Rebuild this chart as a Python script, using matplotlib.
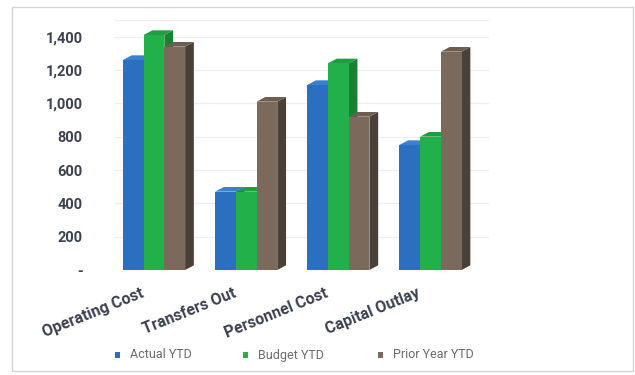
import matplotlib
matplotlib.use("Agg")
import matplotlib.pyplot as plt
from matplotlib.patches import Polygon, Rectangle
import matplotlib.transforms as mtransforms

# Chart data
categories = ["Operating Cost", "Transfers Out", "Personnel Cost", "Capital Outlay"]
series_names = ["Actual YTD", "Budget YTD", "Prior Year YTD"]
actual_ytd = [1260, 470, 1110, 750]
budget_ytd = [1410, 470, 1240, 800]
prior_year_ytd = [1340, 1010, 920, 1310]
y_ticks = [0, 200, 400, 600, 800, 1000, 1200, 1400]
y_tick_labels = ["-", "200", "400", "600", "800", "1,000", "1,200", "1,400"]

series_values = [actual_ytd, budget_ytd, prior_year_ytd]
front_colors = ["#2b6fc0", "#22b04a", "#7b6a5c"]
top_colors = ["#3a80cc", "#1f9e40", "#6e5e51"]
side_colors = ["#1d4f8e", "#168232", "#4b4037"]

plt.rcParams["font.family"] = ["Roboto", "DejaVu Sans"]

W, H = 635, 375
fig = plt.figure(figsize=(W / 100, H / 100), dpi=100)
fig.patch.set_facecolor("white")

# outer frame
fig.patches.append(Rectangle((12 / W, 4 / H), 621 / W, 364 / H, transform=fig.transFigure,
                             fill=False, edgecolor="#d4d4d4", linewidth=1.0))

ax = fig.add_axes([100 / W, 105 / H, 395 / W, 250 / H])
ax.set_xlim(-0.586, 3.70)
ax.set_ylim(0, 1500)
for s in ax.spines.values():
    s.set_visible(False)

# back-wall gridlines
for v in y_ticks[1:] + [1500]:
    ax.plot([-0.42, 3.62], [v, v], color="#eeeeee", lw=0.9, zorder=0)

bar_w = 0.225
dx = 0.095   # depth offset in x (data units)
dy = 28      # depth offset in y (value units)

for g in range(len(categories)):
    for i, vals in enumerate(series_values):
        x0 = g + (i - 1.5) * bar_w
        x1 = x0 + bar_w
        h = vals[g]
        side = Polygon([(x1, 0), (x1 + dx, dy), (x1 + dx, h + dy), (x1, h)],
                       closed=True, facecolor=side_colors[i], edgecolor="none", zorder=2 + i)
        top = Polygon([(x0, h), (x1, h), (x1 + dx, h + dy), (x0 + dx, h + dy)],
                      closed=True, facecolor=top_colors[i], edgecolor="none", zorder=2 + i)
        ax.add_patch(side)
        ax.add_patch(top)
        ax.bar(x0, h, width=bar_w, align="edge", color=front_colors[i],
               edgecolor="none", zorder=2 + i)

ax.set_xticks([])
ax.set_yticks(y_ticks)
ax.set_yticklabels(y_tick_labels)
ax.tick_params(axis="y", length=0, pad=12.5, labelsize=10.5, labelcolor="#3c4150")
for lab in ax.get_yticklabels():
    lab.set_fontweight("bold")

# rotated category labels
trans = mtransforms.blended_transform_factory(ax.transData, ax.transAxes)
for g, name in enumerate(categories):
    ax.text(g - 0.12, -0.09, name, transform=trans, rotation=22,
            rotation_mode="anchor", ha="right", va="center",
            fontsize=11.5, fontweight="bold", color="#3c4150")

# legend
legend_items = [(115, 130), (243, 258), (378, 393)]
for (sx, tx), name, col in zip(legend_items, series_names, front_colors):
    fig.patches.append(Rectangle((sx / W, (H - 358) / H), 5 / W, 6 / H,
                                 transform=fig.transFigure, facecolor=col, edgecolor="none"))
    fig.text(tx / W, (H - 355) / H, name, fontsize=9, color="#6a6a6a", va="center", ha="left")

fig.savefig("out.png", dpi=100)
